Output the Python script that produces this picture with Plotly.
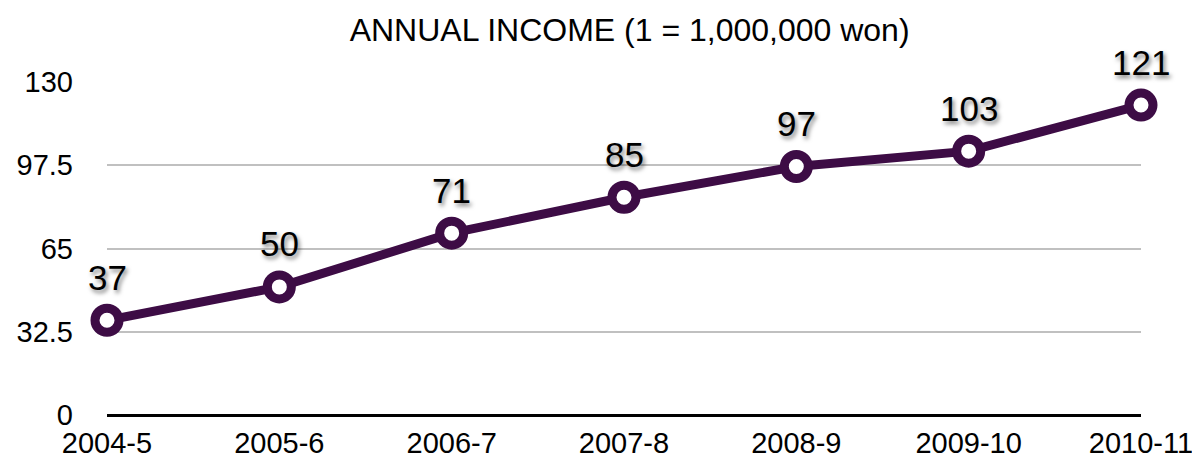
import plotly.graph_objects as go

years = ["2004-5", "2005-6", "2006-7", "2007-8", "2008-9", "2009-10", "2010-11"]
income = [37, 50, 71, 85, 97, 103, 121]
y_ticks = [0, 32.5, 65, 97.5, 130]
y_tick_text = ["0", "32.5", "65", "97.5", "130"]

purple = "#3d0c45"
FONT = "Liberation Sans, Arial, Helvetica, sans-serif"

fig = go.Figure()
fig.add_trace(go.Scatter(
    x=years, y=income, mode="lines+markers",
    line=dict(color=purple, width=9),
    marker=dict(size=24, color="white", line=dict(color=purple, width=9)),
    cliponaxis=False, hoverinfo="skip",
))
for xv, yv in zip(years, income):
    fig.add_annotation(
        x=xv, y=yv, text=str(yv), showarrow=False, yshift=43,
        font=dict(family=FONT, size=35, color="black",
                  shadow="2px 3px 4px rgba(0,0,0,0.5)"),
    )

fig.update_layout(
    width=1200, height=462,
    margin=dict(l=99, r=67, t=74, b=55, autoexpand=False),
    paper_bgcolor="white", plot_bgcolor="white",
    showlegend=False,
    font=dict(family=FONT, color="black", size=29),
    title=dict(text="ANNUAL INCOME (1 = 1,000,000 won)", x=0.518, xanchor="center",
               y=0.952, yanchor="middle", font=dict(family=FONT, size=32, color="black")),
    xaxis=dict(type="category", range=[0, 6], showgrid=False, showline=False,
               zeroline=False, ticks="outside", ticklen=2, tickcolor="rgba(0,0,0,0)",
               tickfont=dict(size=29), automargin=False),
    yaxis=dict(range=[0, 130], tickvals=y_ticks, ticktext=y_tick_text,
               showgrid=True, gridcolor="#c0c0c0", gridwidth=2,
               zeroline=True, zerolinecolor="black", zerolinewidth=3,
               showline=False, ticks="", tickfont=dict(size=29), ticklabelstandoff=33,
               automargin=False),
)

fig.write_html("out.html")
